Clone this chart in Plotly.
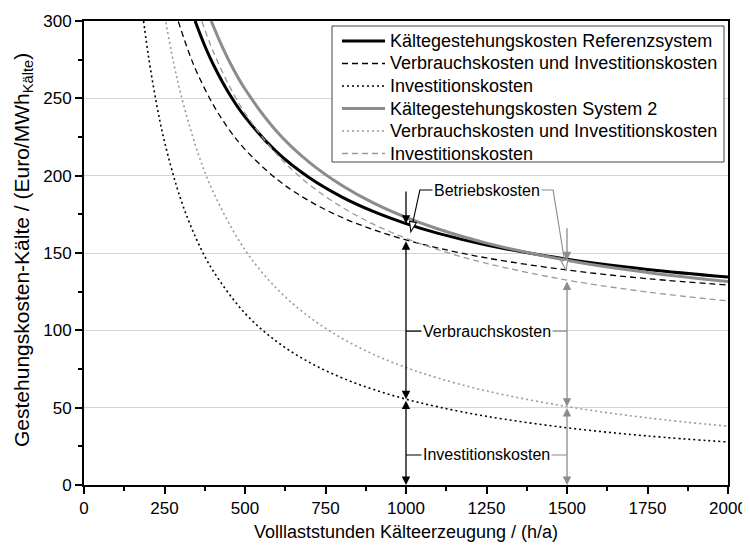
import math
import plotly.graph_objects as go

# ---------------- data ----------------
# Referenzsystem
ref_total_x = [345, 375, 400, 450, 500, 600, 700, 800, 900, 1000, 1100, 1250, 1500, 1750, 2000]
ref_total_y = [300.0, 284.0, 272.5, 253.3, 238.0, 215.0, 198.6, 186.3, 176.7, 169.0, 162.7, 155.2, 146.0, 139.4, 134.5]
ref_vi_x = [293, 325, 350, 400, 450, 500, 600, 700, 800, 900, 1000, 1100, 1250, 1500, 1750, 2000]
ref_vi_y = [299.7, 280.0, 267.1, 246.3, 230.0, 217.0, 197.5, 183.6, 173.1, 165.0, 158.5, 153.2, 146.8, 139.0, 133.4, 129.3]
ref_inv_x = [185, 200, 225, 250, 300, 350, 400, 500, 600, 700, 800, 900, 1000, 1100, 1250, 1500, 1750, 2000]
ref_inv_y = [300.0, 277.5, 246.7, 222.0, 185.0, 158.6, 138.8, 111.0, 92.5, 79.3, 69.4, 61.7, 55.5, 50.5, 44.4, 37.0, 31.7, 27.8]
# System 2
s2_total_x = [395, 425, 450, 500, 600, 700, 800, 900, 1000, 1100, 1250, 1500, 1750, 2000]
s2_total_y = [300.0, 285.3, 274.4, 256.0, 228.3, 208.6, 193.8, 182.2, 173.0, 165.5, 156.4, 145.3, 137.4, 131.5]
s2_dotted_x = [254, 275, 300, 350, 400, 500, 600, 700, 800, 900, 1000, 1100, 1250, 1500, 1750, 2000]
s2_dotted_y = [299.2, 276.4, 253.3, 217.1, 190.0, 152.0, 126.7, 108.6, 95.0, 84.4, 76.0, 69.1, 60.8, 50.7, 43.4, 38.0]
s2_dashed_x = [366, 400, 450, 500, 600, 700, 800, 900, 1000, 1100, 1250, 1500, 1750, 2000]
s2_dashed_y = [299.8, 281.0, 258.5, 240.5, 213.5, 194.2, 179.8, 168.5, 159.5, 152.1, 143.3, 132.5, 124.8, 119.0]

legend_names = [
    "Kältegestehungskosten Referenzsystem",
    "Verbrauchskosten und Investitionskosten",
    "Investitionskosten",
    "Kältegestehungskosten System 2",
    "Verbrauchskosten und Investitionskosten",
    "Investitionskosten",
]
x_ticks = [0, 250, 500, 750, 1000, 1250, 1500, 1750, 2000]
y_ticks = [0, 50, 100, 150, 200, 250, 300]
x_title = "Volllaststunden Kälteerzeugung / (h/a)"
y_title = "Gestehungskosten-Kälte / (Euro/MWh<sub>Kälte</sub>)"
ref_mark_x = 1000
s2_mark_x = 1500
ref_bar_top = 190.7
s2_bar_top = 167.0

FONT = "Liberation Sans, Arial, sans-serif"
BLACK = "#000000"
GRAY = "#8c8c8c"
LGRAY = "#9a9a9a"

styles = [
    dict(color=BLACK, width=3, dash="solid"),
    dict(color=BLACK, width=1.3, dash="6px,4px"),
    dict(color=BLACK, width=1.6, dash="2px,3px"),
    dict(color=GRAY, width=3, dash="solid"),
    dict(color=LGRAY, width=1.6, dash="2px,3px"),
    dict(color=LGRAY, width=1.3, dash="6px,4px"),
]
series = [
    (ref_total_x, ref_total_y),
    (ref_vi_x, ref_vi_y),
    (ref_inv_x, ref_inv_y),
    (s2_total_x, s2_total_y),
    (s2_dotted_x, s2_dotted_y),
    (s2_dashed_x, s2_dashed_y),
]

fig = go.Figure()
for (xs, ys), st, nm in zip(series, styles, legend_names):
    fig.add_trace(go.Scatter(x=xs, y=ys, name=nm, mode="lines", showlegend=False,
                             line=dict(color=st["color"], width=st["width"], dash=st["dash"], shape="spline")))

def val(xs, ys, x):
    return ys[xs.index(x)]

r_tot = val(ref_total_x, ref_total_y, ref_mark_x)
r_vi = val(ref_vi_x, ref_vi_y, ref_mark_x)
r_inv = val(ref_inv_x, ref_inv_y, ref_mark_x)
s_tot = val(s2_total_x, s2_total_y, s2_mark_x)
s_vi = val(s2_dashed_x, s2_dashed_y, s2_mark_x)
s_inv = val(s2_dotted_x, s2_dotted_y, s2_mark_x)

annotations = []

def arrow(x, y_from, y_to, color, both):
    d = dict(x=x, y=y_to, ax=x, ay=y_from, xref="x", yref="y", axref="x", ayref="y",
             text="", showarrow=True, arrowhead=2, arrowsize=1.3, arrowwidth=1.3,
             arrowcolor=color, standoff=0)
    if both:
        d.update(arrowside="end+start", startarrowhead=2, startarrowsize=1.3, startstandoff=0)
    return d

annotations += [
    arrow(ref_mark_x, ref_bar_top, r_tot, BLACK, False),
    arrow(ref_mark_x, r_vi, r_inv, BLACK, True),
    arrow(ref_mark_x, r_inv, 0, BLACK, True),
    arrow(s2_mark_x, s2_bar_top, s_tot, GRAY, False),
    arrow(s2_mark_x, s_vi, s_inv, GRAY, True),
    arrow(s2_mark_x, s_inv, 0, GRAY, True),
]

# labels
lab_x = 1250
lab_betr_y = ref_bar_top
lab_verb_y = 99.5
lab_inv_y = 19.4
for txt, yy in [("Betriebskosten", lab_betr_y), ("Verbrauchskosten", lab_verb_y), ("Investitionskosten", lab_inv_y)]:
    annotations.append(dict(x=lab_x, y=yy, xref="x", yref="y", text=txt, showarrow=False,
                            font=dict(family=FONT, size=16, color=BLACK), bgcolor="white",
                            borderpad=1, xanchor="center", yanchor="middle"))

# shapes: leader lines + hollow arrowheads
PW, PH = 644.0, 464.0
SX = 2000 / PW
SY = 300 / PH
shapes = []

def hollow(tip, frm, color, L=10, W=7):
    dxp = (tip[0] - frm[0]) / SX
    dyp = (tip[1] - frm[1]) / SY
    n = math.hypot(dxp, dyp)
    ux, uy = dxp / n, dyp / n
    px_, py_ = -uy, ux
    bx, by = -L * ux, -L * uy
    c1 = (tip[0] + (bx + px_ * W / 2) * SX, tip[1] + (by + py_ * W / 2) * SY)
    c2 = (tip[0] + (bx - px_ * W / 2) * SX, tip[1] + (by - py_ * W / 2) * SY)
    base = (tip[0] + bx * SX, tip[1] + by * SY)
    shapes.append(dict(type="path", xref="x", yref="y",
                       path=f"M{tip[0]},{tip[1]} L{c1[0]},{c1[1]} L{c2[0]},{c2[1]} Z",
                       fillcolor="white", line=dict(color=color, width=1.1), layer="above"))
    return base

left_corner = (1043, lab_betr_y)
left_tip = (1015, (r_tot + r_vi) / 2)
lb = hollow(left_tip, left_corner, BLACK)
shapes.append(dict(type="path", xref="x", yref="y", layer="above",
                   path=f"M{lab_x},{lab_betr_y} L{left_corner[0]},{left_corner[1]} L{lb[0]},{lb[1]}",
                   line=dict(color=BLACK, width=1.1)))
right_corner = (1457, lab_betr_y)
right_tip = (1497, (s_tot + s_vi) / 2)
rb = hollow(right_tip, right_corner, GRAY)
shapes.append(dict(type="path", xref="x", yref="y", layer="above",
                   path=f"M{lab_x},{lab_betr_y} L{right_corner[0]},{right_corner[1]} L{rb[0]},{rb[1]}",
                   line=dict(color=GRAY, width=1.1)))
for yy in (lab_verb_y, lab_inv_y):
    shapes.append(dict(type="line", xref="x", yref="y", x0=ref_mark_x, x1=lab_x, y0=yy, y1=yy,
                       line=dict(color=BLACK, width=1.1), layer="above"))
    shapes.append(dict(type="line", xref="x", yref="y", x0=lab_x, x1=s2_mark_x, y0=yy, y1=yy,
                       line=dict(color=GRAY, width=1.1), layer="above"))

# legend box (drawn as shapes + text so its compact spacing matches)
def px_to_paper_x(p):
    return (p - 84) / PW

def px_to_paper_y(p):
    return (485 - p) / PH

shapes.append(dict(type="rect", xref="paper", yref="paper",
                   x0=px_to_paper_x(332), x1=px_to_paper_x(724),
                   y0=px_to_paper_y(162), y1=px_to_paper_y(26),
                   fillcolor="white", line=dict(color="#444444", width=1), layer="above"))
row0 = 41.0
row_step = 22.5
for i, (nm, st) in enumerate(zip(legend_names, styles)):
    yy = px_to_paper_y(row0 + i * row_step)
    shapes.append(dict(type="line", xref="paper", yref="paper",
                       x0=px_to_paper_x(342), x1=px_to_paper_x(385), y0=yy, y1=yy,
                       line=dict(color=st["color"], width=st["width"], dash=st["dash"]), layer="above"))
    annotations.append(dict(x=px_to_paper_x(388), y=yy, xref="paper", yref="paper", text=nm,
                            showarrow=False, xanchor="left", yanchor="middle",
                            font=dict(family=FONT, size=18, color=BLACK)))

# y axis title, centred on the plot height
annotations.append(dict(x=px_to_paper_x(23), y=px_to_paper_y(250), xref="paper", yref="paper",
                        text=y_title, textangle=-90, showarrow=False,
                        xanchor="center", yanchor="middle", borderpad=0,
                        font=dict(family=FONT, size=21, color=BLACK)))

fig.update_layout(
    width=750, height=545,
    margin=dict(l=76, r=30, t=13, b=68),
    paper_bgcolor="white", plot_bgcolor="white",
    font=dict(family=FONT, size=17, color=BLACK),
    showlegend=False,
    annotations=annotations,
    shapes=shapes,
)
fig.update_xaxes(range=[0, 2000], tickvals=x_ticks, ticks="outside", ticklen=7, tickwidth=1.5,
                 tickcolor=BLACK, showline=True, linewidth=2, linecolor=BLACK, mirror=True,
                 showgrid=False, zeroline=False,
                 minor=dict(dtick=125, ticks="outside", ticklen=4, tickwidth=1.5, tickcolor=BLACK, showgrid=False),
                 title=dict(text=x_title, font=dict(size=18), standoff=8),
                 tickfont=dict(size=17), automargin=False)
fig.update_yaxes(range=[0, 300], tickvals=y_ticks, ticks="outside", ticklen=7, tickwidth=1.5,
                 tickcolor=BLACK, showline=True, linewidth=2, linecolor=BLACK, mirror=True,
                 showgrid=True, gridcolor="#d4d4d4", gridwidth=1, zeroline=False,
                 minor=dict(dtick=25, ticks="outside", ticklen=4, tickwidth=1.5, tickcolor=BLACK, showgrid=False),
                 tickfont=dict(size=17), automargin=False)

fig.write_html("out.html")
